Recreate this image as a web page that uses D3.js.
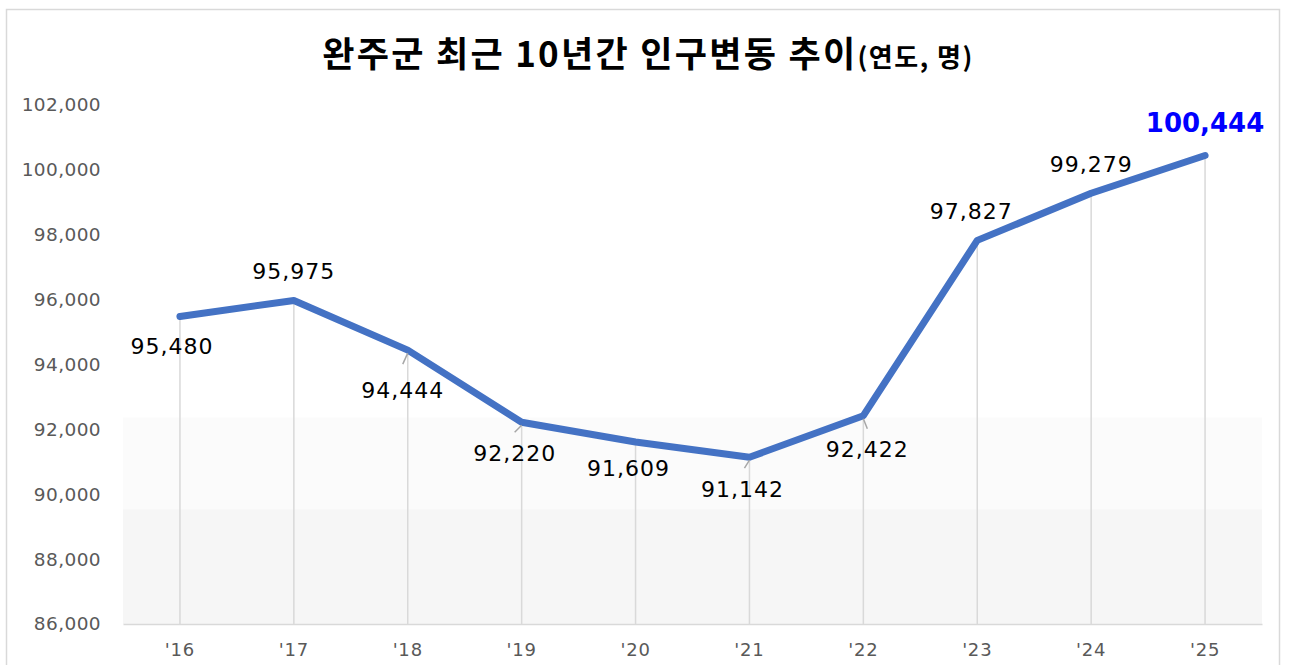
<!DOCTYPE html>
<html>
<head>
<meta charset="utf-8">
<script src="https://cdn.jsdelivr.net/npm/d3@7"></script>
<style>
  html, body { margin: 0; padding: 0; background: #fff; }
  svg { display: block; }
</style>
</head>
<body>
<svg id="chart"></svg>
<script>
const years = ["'16", "'17", "'18", "'19", "'20", "'21", "'22", "'23", "'24", "'25"]
const population = [95480, 95975, 94444, 92220, 91609, 91142, 92422, 97827, 99279, 100444]
const yTicks = [86000, 88000, 90000, 92000, 94000, 96000, 98000, 100000, 102000]
// where each value label sits, relative to its point (dx, dy of baseline)
const labelOffsets = [[-8, 38], [0, -21], [-5, 48], [-7, 39], [-7, 34], [-7, 40], [4, 41], [-6, -21], [0, -21], [0, -23]]
// small leader lines for a few labels
const leaders = { 2: [-5, 14], 3: [-7, 10], 5: [-5, 11], 6: [4, 13] }

const width = 1289, height = 665
const margin = {top: 105, right: 27, bottom: 41, left: 123}

const svg = d3.select("#chart").attr("width", width).attr("height", height)

// outer frame
svg.append("rect")
    .attr("x", 6.5).attr("y", 9.5)
    .attr("width", 1273).attr("height", 700)
    .attr("fill", "none").attr("stroke", "#d9d9d9").attr("stroke-width", 1.5)

const x = d3.scaleBand().domain(years).range([margin.left, width - margin.right])
const y = d3.scaleLinear().domain([86000, 102000]).range([height - margin.bottom, margin.top])

// soft grey bands at the bottom of the plot area
const plotH = y(86000) - y(102000)
svg.append("rect")
    .attr("x", margin.left).attr("width", width - margin.right - margin.left)
    .attr("y", y(86000) - plotH * 0.398).attr("height", plotH * 0.177)
    .attr("fill", "#fbfbfb")
svg.append("rect")
    .attr("x", margin.left).attr("width", width - margin.right - margin.left)
    .attr("y", y(86000) - plotH * 0.221).attr("height", plotH * 0.221)
    .attr("fill", "#f6f6f6")

// title
const title = svg.append("text")
    .attr("x", 648).attr("y", 67)
    .attr("text-anchor", "middle")
    .style("font-family", "'Noto Sans CJK KR', sans-serif")
    .style("font-weight", "bold")
    .attr("fill", "#000")
title.append("tspan").style("font-size", "35px").attr("letter-spacing", "2.3px").text("완주군 최근 10년간 인구변동 추이")
title.append("tspan").style("font-size", "26px").attr("letter-spacing", "1.5px").text("(연도, 명)")

// drop lines
svg.selectAll("line.drop")
    .data(population)
    .join("line")
    .attr("class", "drop")
    .attr("x1", (d, i) => x(years[i]) + x.bandwidth() / 2)
    .attr("x2", (d, i) => x(years[i]) + x.bandwidth() / 2)
    .attr("y1", d => y(d))
    .attr("y2", y(86000))
    .attr("stroke", "#d9d9d9").attr("stroke-width", 1.5)

// bottom axis
const xAxis = svg.append("g")
    .attr("transform", `translate(0,${y(86000)})`)
    .call(d3.axisBottom(x).tickSize(0).tickPadding(19))
xAxis.select(".domain").attr("stroke", "#d9d9d9").attr("stroke-width", 1.5)
xAxis.selectAll("text")
    .style("font-family", "'DejaVu Sans', sans-serif")
    .style("font-size", "18px")
    .attr("letter-spacing", "0.8px")
    .attr("fill", "#595959")

// left axis (labels only)
const yAxis = svg.append("g")
    .attr("transform", `translate(${margin.left - 22},0)`)
    .call(d3.axisLeft(y).tickValues(yTicks).tickSize(0).tickPadding(0).tickFormat(d3.format(",")))
yAxis.select(".domain").remove()
yAxis.selectAll("text")
    .style("font-family", "'DejaVu Sans', sans-serif")
    .style("font-size", "18.5px")
    .attr("letter-spacing", "0.4px")
    .attr("fill", "#595959")

// line
const line = d3.line()
    .x((d, i) => x(years[i]) + x.bandwidth() / 2)
    .y(d => y(d))

svg.append("path")
    .datum(population)
    .attr("d", line)
    .attr("fill", "none")
    .attr("stroke", "#4472c4")
    .attr("stroke-width", 7)
    .attr("stroke-linecap", "round")
    .attr("stroke-linejoin", "round")

// leader lines
for (const k in leaders) {
    const i = +k
    const cx = x(years[i]) + x.bandwidth() / 2
    const cy = y(population[i])
    svg.append("line")
        .attr("x1", cx).attr("y1", cy + 3)
        .attr("x2", cx + leaders[k][0]).attr("y2", cy + leaders[k][1])
        .attr("stroke", "#a6a6a6").attr("stroke-width", 1.5)
}

// value labels
const fmt = d3.format(",")
svg.selectAll("text.val")
    .data(population)
    .join("text")
    .attr("class", "val")
    .attr("x", (d, i) => x(years[i]) + x.bandwidth() / 2 + labelOffsets[i][0])
    .attr("y", (d, i) => y(d) + labelOffsets[i][1])
    .attr("text-anchor", "middle")
    .style("font-family", "'DejaVu Sans', sans-serif")
    .style("font-size", (d, i) => i === population.length - 1 ? "26px" : "22px")
    .style("font-weight", (d, i) => i === population.length - 1 ? "bold" : "normal")
    .attr("letter-spacing", (d, i) => i === population.length - 1 ? "0px" : "1px")
    .attr("fill", (d, i) => i === population.length - 1 ? "#0000ff" : "#000")
    .text(d => fmt(d))
</script>
</body>
</html>
